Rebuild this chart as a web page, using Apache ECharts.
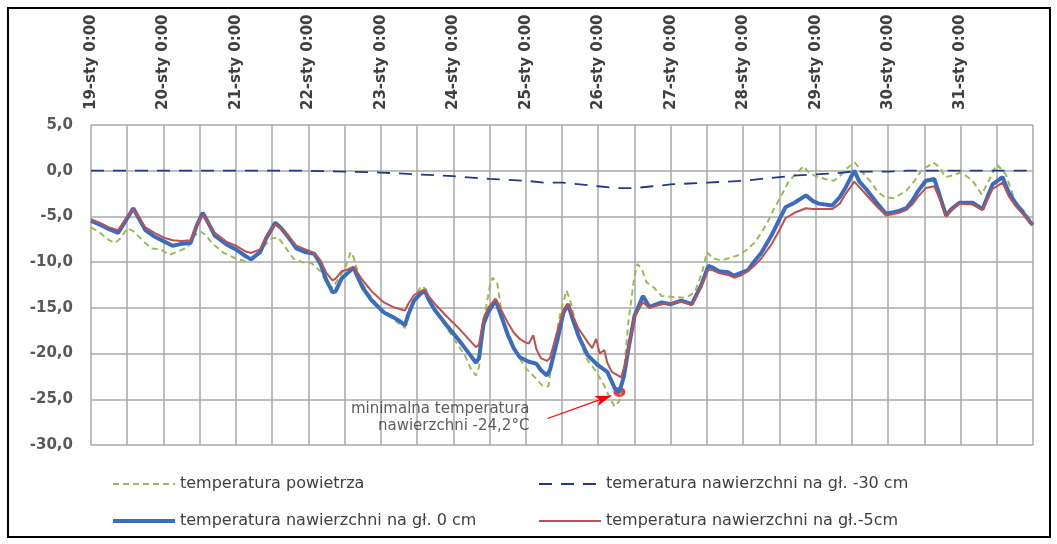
<!DOCTYPE html>
<html>
<head>
<meta charset="utf-8">
<script src="https://cdn.jsdelivr.net/npm/echarts@6/dist/echarts.min.js"></script>
<style>
  html, body { margin: 0; padding: 0; background: #fff; }
  #chart { width: 1057px; height: 544px; background: #fff; }
</style>
</head>
<body>
<div id="chart"></div>
<script>
// Day labels on the time axis (hours counted from 19-sty 0:00)
const dayLabels = ['19-sty 0:00', '20-sty 0:00', '21-sty 0:00', '22-sty 0:00', '23-sty 0:00',
  '24-sty 0:00', '25-sty 0:00', '26-sty 0:00', '27-sty 0:00', '28-sty 0:00',
  '29-sty 0:00', '30-sty 0:00', '31-sty 0:00'];

const seriesNames = {
  air: 'temperatura powietrza',
  d30: 'temeratura nawierzchni na gł. -30 cm',
  d0: 'temperatura nawierzchni na gł. 0 cm',
  d5: 'temperatura nawierzchni na gł.-5cm'
};

// Air temperature
const airHours = [0, 3, 6, 8, 10, 12, 14, 17, 20, 23, 26, 29, 32, 34, 36, 38, 40, 44, 48, 51, 53, 56, 58, 60, 62, 64, 67, 70, 73,
  76, 78, 80, 82, 84, 86, 87, 89, 92, 96, 100, 103, 104, 106, 108, 109.5, 111, 113, 117, 121, 124, 126, 127.5, 128.5, 130, 132, 133,
  134.5, 136, 138, 141, 144, 147, 149.5, 151.5, 153, 155.5, 157.5, 159, 161, 164, 167, 170, 172, 173.5, 175, 176.5, 178, 180, 181,
  182.5, 184, 186.5, 189, 193, 197, 200, 202.5, 204, 206, 209, 212, 214, 217, 220, 222, 224, 226, 228.7, 231, 233, 236, 238, 241,
  244, 246, 248, 250.5, 253, 255, 258, 260.5, 263, 266, 270, 273, 275, 279, 281, 283, 285.5, 288, 290, 292, 295, 297.5, 300, 303,
  306, 309, 311, 312];
const airTemps = [-6.2, -6.8, -7.6, -7.9, -7.3, -6.3, -6.6, -7.6, -8.5, -8.6, -9.2, -8.8, -8.4, -7.2, -6.6, -7.0, -7.9, -9.0, -9.6,
  -9.9, -9.8, -8.8, -8.0, -7.4, -7.3, -8.2, -9.6, -10.0, -10.1,
  -11.0, -12.3, -12.8, -11.8, -10.8, -8.9, -9.5, -11.8, -13.5, -15.2, -16.2, -17.0, -17.2, -15.0, -13.3, -12.6, -13.0, -14.8, -16.8,
  -18.8, -20.3, -21.8, -22.4, -21.5, -16.5, -12.8, -11.7,
  -12.2, -15.5, -18.2, -20.0, -21.6, -22.6, -23.5, -23.6, -20.0, -15.5, -13.1, -14.5, -17.5, -20.5, -21.8, -23.5, -25.0, -25.8, -25.2,
  -22.0, -16.5, -11.5, -10.2,
  -10.8, -12.2, -12.8, -13.7, -13.8, -13.9, -13.3, -11.0, -8.9, -9.6, -9.8, -9.5, -9.3, -8.7, -7.8, -6.8, -5.7, -4.3, -2.7, -1.2, -0.5,
  0.5, -0.3, -0.7,
  -1.0, -1.1, -0.6, 0.3, 0.9, 0.0, -1.1, -2.3, -2.9, -3.0, -2.2, -1.0, 0.0, 0.9, 0.4, -0.7, -0.5, -0.2, -0.6, -1.1, -2.6, -1.0, 0.7, -0.4,
  -3.3, -4.4, -5.3, -5.6];

// Pavement temperature at -30 cm
const d30Hours = [0, 12, 24, 36, 48, 60, 72, 84, 96, 108, 120, 132, 144, 150, 156, 162, 168, 174, 180, 186, 192, 198, 204, 210,
  216, 222, 228, 234, 240, 246, 252, 258, 264, 270, 282, 294, 306, 312];
const d30Temps = [0.0, 0.0, 0.0, 0.0, 0.0, 0.0, 0.0, -0.1, -0.2, -0.4, -0.6, -0.9, -1.1, -1.3, -1.3, -1.5, -1.7, -1.9, -1.9, -1.7,
  -1.5, -1.4, -1.3, -1.2, -1.1, -0.9, -0.7, -0.5, -0.4, -0.3, -0.1, -0.1, -0.1, 0.0, 0.0, 0.0, 0.0, 0.0];

// Pavement surface temperature (0 cm)
const d0Hours = [0, 3, 6, 9, 12, 14, 16, 18, 21, 24, 27, 30, 33, 35, 37, 39, 41, 45, 48, 51, 53, 56, 58, 61, 63, 65, 68, 71, 74,
  76, 78, 80, 81, 83, 85, 87, 88, 90, 93, 97, 100, 102, 104, 105, 107, 109, 110.5, 112, 114, 118, 122, 125, 127.5, 128.5, 130,
  131.5, 134, 136, 138, 140, 142, 145, 147.5, 149, 151, 152, 154.5, 156.5, 158, 159.5, 161.5, 164.5, 168, 171, 173.5, 175, 176.5,
  178, 180, 182.8, 185, 189, 192, 195.5, 199, 202, 204.5, 206, 208, 211, 213, 215, 217.5, 220, 222, 225.5, 228.5, 230, 233, 236.8,
  239, 241, 245.5, 248, 250, 252.8, 254.5, 256.7, 260, 263.3, 265, 267.7, 270, 272, 274, 276.5, 279.3, 281, 283.2, 285, 287.6,
  292, 295.3, 297, 298.6, 301.9, 304, 306.3, 308.5, 311, 312];
const d0Temps = [-5.5, -5.9, -6.4, -6.8, -5.2, -4.1, -5.3, -6.5, -7.2, -7.7, -8.2, -8.0, -7.9, -6.0, -4.6, -5.8, -7.1, -8.1, -8.6,
  -9.3, -9.7, -8.9, -7.4, -5.7, -6.3, -7.1, -8.5, -8.9, -9.1,
  -10.2, -12.0, -13.3, -13.2, -11.8, -11.2, -10.6, -11.4, -12.8, -14.2, -15.5, -16.0, -16.4, -16.9, -15.8, -14.2, -13.5, -13.1,
  -14.2, -15.3, -17.0, -18.6, -19.9, -21.0, -20.5, -16.8,
  -15.5, -14.2, -16.0, -17.9, -19.4, -20.4, -20.9, -21.1, -21.8, -22.4, -21.8, -18.5, -15.5, -14.6, -16.2, -18.1, -20.2, -21.3,
  -22.0, -23.8, -24.2, -22.5,
  -19.5, -15.9, -13.7, -14.9, -14.4, -14.6, -14.2, -14.6, -12.6, -10.4, -10.6, -11.0, -11.1, -11.5, -11.2, -10.9, -9.8, -9.0,
  -7.0, -5.0, -4.0, -3.5, -2.7,
  -3.3, -3.6, -3.8, -2.9, -1.8, 0.0, -1.2, -2.0, -3.4, -4.7, -4.6, -4.4, -4.1, -3.3, -2.2, -1.1, -0.9, -2.6, -4.9, -4.2, -3.5,
  -3.5, -4.2, -2.8, -1.5, -0.7, -2.4, -3.6, -4.5, -5.6, -5.9];

// Pavement temperature at -5 cm
const d5Hours = [0, 3, 6, 9, 12, 14, 16, 18, 21, 24, 27, 30, 33, 35, 37, 39, 41, 45, 48, 51, 53, 56, 58, 61, 63, 65, 68, 71, 74,
  76, 78, 80, 81, 83, 85, 87, 88, 90, 93, 97, 100, 102, 104, 105, 107, 109, 110.5, 112, 114, 118, 122, 125, 127.5, 128.5, 130,
  131.5, 134, 136, 138, 140, 142, 144, 145, 146.5, 147.5, 149, 151, 152, 154.5, 156.5, 158, 159.5, 161.5, 163, 164.6, 166, 167.3,
  168.5, 170, 171, 172.5, 175.6, 177, 178.5, 180, 182.8, 185, 189, 192, 195.5, 199, 202, 204.5, 206, 208, 211, 213, 215, 217.5,
  220, 222, 225.5, 228.5, 230, 233, 236.8, 239, 241, 245.5, 248, 250, 252.8, 254.5, 256.7, 260, 263.3, 265, 267.7, 270, 272, 274,
  276.5, 279.3, 281, 283.2, 285, 287.6, 292, 295.3, 297, 298.6, 301.9, 304, 306.3, 308.5, 311, 312];
const d5Temps = [-5.3, -5.7, -6.2, -6.5, -5.0, -4.2, -5.2, -6.2, -6.8, -7.3, -7.6, -7.7, -7.6, -6.0, -4.8, -5.7, -6.8, -7.8, -8.2,
  -8.8, -9.0, -8.6, -7.3, -5.9, -6.3, -7.0, -8.2, -8.6, -9.0,
  -9.8, -11.2, -12.0, -11.8, -11.0, -10.8, -10.5, -11.0, -12.0, -13.2, -14.4, -14.9, -15.1, -15.3, -14.6, -13.6, -13.2, -13.0,
  -13.8, -14.6, -16.0, -17.3, -18.4, -19.3, -19.0, -16.2,
  -15.0, -14.0, -15.3, -16.6, -17.7, -18.4, -18.8, -18.9, -18.0, -19.5, -20.5, -20.8, -20.5, -17.5, -15.2, -14.6, -15.8, -17.3,
  -18.0, -18.8, -19.4, -18.4,
  -20.0, -19.6, -21.0, -22.0, -22.6, -21.0, -18.5, -16.0, -14.4, -15.0, -14.6, -14.5, -14.3, -14.7, -12.8, -10.8, -10.9, -11.2,
  -11.4, -11.7, -11.5, -11.0,
  -10.3, -9.6, -8.0, -6.2, -5.2, -4.6, -4.1, -4.2, -4.2, -4.2, -3.6, -2.5, -1.2, -1.8, -2.6, -3.8, -4.9, -4.8, -4.6, -4.3, -3.7,
  -2.8, -1.9, -1.7, -3.0, -5.0, -4.3, -3.6, -3.7, -4.3, -3.1, -2.0, -1.3, -2.8, -3.9, -4.7, -5.6, -5.9];

const pairs = (hours, temps) => hours.map((h, i) => [h, temps[i]]);
const fmtNum = v => v.toFixed(1).replace('.', ',');

// Lowest surface temperature, marked with a red dot
let minIdx = 0;
d0Temps.forEach((v, i) => { if (v < d0Temps[minIdx]) minIdx = i; });
const minPoint = [d0Hours[minIdx], d0Temps[minIdx]];

const FONT = 'DejaVu Sans';
const GRID_COLOR = '#a8a8a8';

// Line styles shared by the series and their key entries
const styles = {
  air: { color: '#9bbb59', width: 2, dash: [6, 4] },
  d30: { color: '#24388a', width: 1.8, dash: [13, 9] },
  d0: { color: '#3a6cc0', width: 4, dash: null },
  d5: { color: '#c0504d', width: 2, dash: null }
};

// Two-column key below the plot
function keyEntry(id, x, y) {
  const s = styles[id];
  const lineStyle = { stroke: s.color, lineWidth: s.width };
  if (s.dash) lineStyle.lineDash = s.dash;
  return [
    {
      type: 'line', silent: true,
      shape: { x1: x, y1: y, x2: x + 62, y2: y },
      style: lineStyle
    },
    {
      type: 'text', silent: true,
      x: x + 67, y: y,
      style: { text: seriesNames[id], fill: '#404040', fontFamily: FONT, fontSize: 16, verticalAlign: 'middle', align: 'left' }
    }
  ];
}

const chart = echarts.init(document.getElementById('chart'));

chart.setOption({
  animation: false,
  grid: { left: 91, right: 24, top: 125, bottom: 99 },
  xAxis: {
    type: 'value',
    position: 'top',
    min: 0,
    max: 312,
    interval: 12,
    axisLine: { show: false },
    axisTick: { show: false },
    splitLine: { show: true, lineStyle: { color: GRID_COLOR, width: 1.5 } },
    axisLabel: {
      rotate: 90,
      margin: 15,
      fontFamily: FONT,
      fontSize: 15,
      fontWeight: 'bold',
      color: '#404040',
      formatter: v => (v % 24 === 0 ? (dayLabels[v / 24] || '') : '')
    }
  },
  yAxis: {
    type: 'value',
    min: -30,
    max: 5,
    interval: 5,
    axisLine: { show: false },
    axisTick: { show: false },
    splitLine: { show: true, lineStyle: { color: GRID_COLOR, width: 1.5 } },
    axisLabel: {
      margin: 18,
      fontFamily: FONT,
      fontSize: 15,
      fontWeight: 'bold',
      color: '#595959',
      formatter: v => fmtNum(v)
    }
  },
  graphic: [
    {
      type: 'rect', silent: true,
      shape: { x: 8, y: 8, width: 1042, height: 529 },
      style: { fill: null, stroke: '#000', lineWidth: 2 }
    }
  ].concat(
    keyEntry('air', 113, 484),
    keyEntry('d0', 113, 521),
    keyEntry('d30', 539, 484),
    keyEntry('d5', 539, 521)
  ),
  series: [
    {
      name: seriesNames.air, type: 'line', symbol: 'none',
      data: pairs(airHours, airTemps),
      lineStyle: { color: styles.air.color, width: styles.air.width, type: styles.air.dash }
    },
    {
      name: seriesNames.d30, type: 'line', symbol: 'none',
      data: pairs(d30Hours, d30Temps),
      lineStyle: { color: styles.d30.color, width: styles.d30.width, type: styles.d30.dash }
    },
    {
      name: seriesNames.d0, type: 'line', symbol: 'none',
      data: pairs(d0Hours, d0Temps),
      lineStyle: { color: styles.d0.color, width: styles.d0.width }
    },
    {
      name: seriesNames.d5, type: 'line', symbol: 'none',
      data: pairs(d5Hours, d5Temps),
      lineStyle: { color: styles.d5.color, width: styles.d5.width }
    },
    {
      name: 'minimum', type: 'scatter',
      data: [minPoint],
      symbolSize: [12, 10],
      itemStyle: { color: '#ff0000' },
      label: {
        show: true,
        position: 'inside',
        offset: [-90, 26],
        align: 'right',
        verticalAlign: 'middle',
        lineHeight: 17,
        fontFamily: FONT,
        fontSize: 15,
        color: '#333333',
        textBorderWidth: 0,
        formatter: p => 'minimalna temperatura\nnawierzchni ' + fmtNum(p.value[1]) + '°C'
      },
      markLine: {
        silent: true,
        symbol: ['none', 'arrow'],
        label: { show: false },
        lineStyle: { color: '#ff0000', width: 1.2, type: 'solid' },
        data: [[{ coord: [151.2, -27.1] }, { coord: [172.3, -24.6] }]]
      }
    }
  ]
});
</script>
</body>
</html>
